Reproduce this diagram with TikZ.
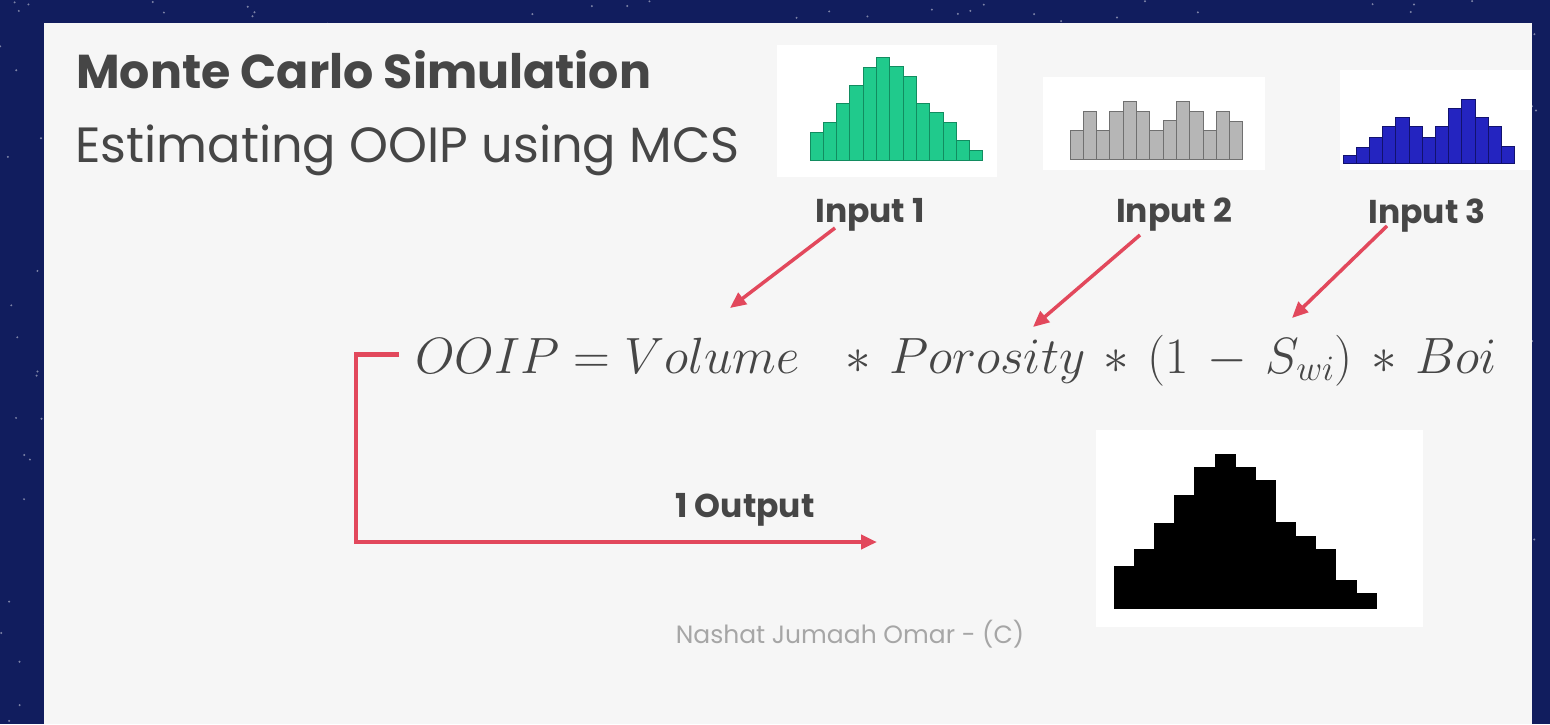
\documentclass[tikz,border=0pt]{standalone}
\usepackage{fix-cm}
\usepackage{fontspec}
\setmainfont{Poppins}
\usetikzlibrary{arrows.meta,positioning}

\definecolor{night}{RGB}{17,29,94}
\definecolor{slide}{RGB}{246,246,246}
\definecolor{ink}{RGB}{70,70,70}
\definecolor{arrowred}{RGB}{226,72,92}
\definecolor{bargreen}{RGB}{32,202,140}
\definecolor{bargreenedge}{RGB}{18,140,96}
\definecolor{bargray}{RGB}{182,182,182}
\definecolor{bargrayedge}{RGB}{112,112,112}
\definecolor{barblue}{RGB}{36,36,192}
\definecolor{barblueedge}{RGB}{18,18,110}

% x0, baseline, bar width, style, heights
\newcommand{\drawbars}[5]{%
  \foreach \h [count=\i] in {#5} {
    \draw[#4] ({#1+(\i-1)*#3},#2) rectangle ++(#3,-\h);
  }}

\begin{document}
\begin{tikzpicture}[x=1pt,y=-1pt,
    plotbox/.style={draw=none,fill=white,inner sep=0pt},
    heading/.style={anchor=base west,inner sep=0pt,text=ink},
    inlabel/.style={anchor=base,inner sep=0pt,text=ink,font=\fontsize{33}{36}\bfseries\selectfont},
    feed/.style={-{Triangle[length=16pt,width=14pt]},line width=3.5pt,arrowred},
    outflow/.style={-{Triangle[length=16pt,width=14pt]},line width=4.5pt,arrowred}]

  \useasboundingbox (0,0) rectangle (1550,724);
  % starry backdrop and slide
  \fill[night] (0,0) rectangle (1550,724);
  \pgfmathsetseed{11}
  \foreach \k in {1,...,500} {
    \pgfmathsetmacro\sx{rnd*1550}
    \pgfmathsetmacro\sy{rnd*724}
    \fill[white,opacity=0.45] (\sx,\sy) circle (1.1pt);
  }
  \fill[slide] (44,23) rectangle (1532,724);

  % headings
  \node[heading,font=\fontsize{47.5}{52}\bfseries\selectfont] (title) at (76,88) {Monte Carlo Simulation};
  \node[heading,font=\fontsize{49.5}{54}\selectfont] (subtitle) at (75,162) {Estimating OOIP using MCS};

  % input distributions
  \node[plotbox,minimum width=220pt,minimum height=132pt] (hist1) at (887,111) {};
  \node[plotbox,minimum width=222pt,minimum height=93pt] (hist2) at (1154,123.5) {};
  \node[plotbox,minimum width=192pt,minimum height=100pt] (hist3) at (1436,120) {};
  \drawbars{810}{160}{13.3}{fill=bargreen,draw=bargreenedge,line width=1pt}{28,38,57,75,93,103,94,84,57,48,38,20,10}
  \drawbars{1070}{159}{13.3}{fill=bargray,draw=bargrayedge,line width=1pt}{29,48,29,48,58,48,29,39,58,48,29,48,38}
  \drawbars{1343}{163}{13.2}{fill=barblue,draw=barblueedge,line width=0.8pt}{8,16,26,37,46,37,26,37,55,64,46,37,17}

  \node[inlabel] (in1) at (870,222) {Input 1};
  \node[inlabel] (in2) at (1174,222) {Input 2};
  \node[inlabel] (in3) at (1427,223) {Input 3};

  % the formula
  \node[anchor=base west,inner sep=0pt,text=ink,font=\fontsize{51}{58}\selectfont] (ooip) at (415,373)
    {\medmuskip=6.5mu $OOIP = Volume\ \ * Porosity * (1-S_{wi}) * Boi$};

  \coordinate (t1) at (730,308);
  \coordinate (t2) at (1033,327);
  \coordinate (t3) at (1292,318);
  \draw[feed] ([xshift=-35pt,yshift=3pt]in1.south) -- (t1);
  \draw[feed] ([xshift=-34pt,yshift=-4pt]in2.south) -- (t2);
  \draw[feed] ([xshift=-40pt,yshift=6pt]in3.south) -- (t3);

  % output distribution
  \node[plotbox,minimum width=327pt,minimum height=197pt] (result) at (1259.5,528.5) {};
  \drawbars{1114}{608}{20.15}{fill=black,draw=black,line width=0.5pt}{42,59,85,113,141,154,141,128,86,72,59,28,15}

  \coordinate (outtip) at (877,542);
  \draw[outflow] ([xshift=-16pt,yshift=6pt]ooip.west) -- ++(-43,0) |- (outtip);
  \node[inlabel] (outlbl) at (745,517) {1 Output};

  \node[anchor=base,inner sep=0pt,text=black!35,font=\fontsize{25}{28}\selectfont] (credit) at (850,643) {Nashat Jumaah Omar - (C)};
\end{tikzpicture}
\end{document}
